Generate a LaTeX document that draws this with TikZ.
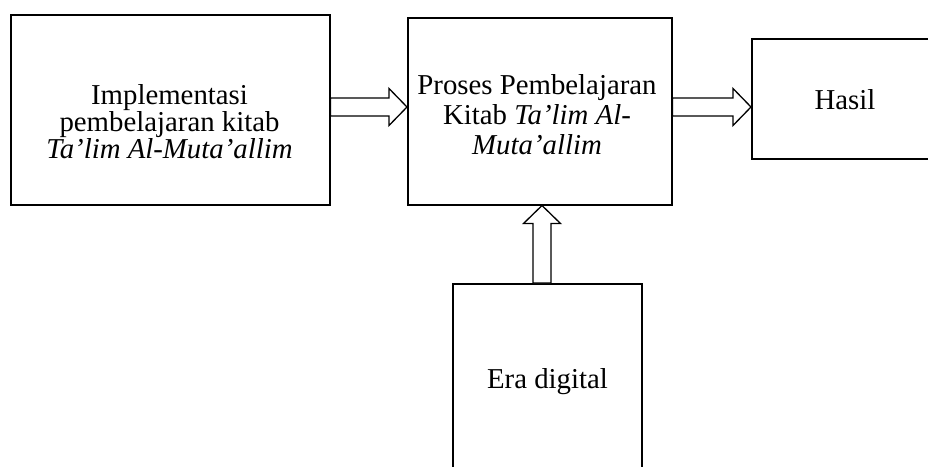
\documentclass[tikz,border=0pt]{standalone}
\usepackage{fontspec}
\setmainfont{Liberation Serif}
\usetikzlibrary{calc}

% hollow block arrow from #1 to #2
\newcommand{\hollowarrow}[2]{%
  \draw[blockarrow] let \p1=(#1), \p2=(#2),
      \n1={veclen(\x2-\x1,\y2-\y1)}, \n2={atan2(\y2-\y1,\x2-\x1)} in
    [shift={(\p1)}, rotate=\n2]
    (0pt,9pt) -- (\n1-18pt,9pt) -- (\n1-18pt,18.5pt) -- (\n1,0pt)
    -- (\n1-18pt,-18.5pt) -- (\n1-18pt,-9pt) -- (0pt,-9pt) -- cycle;}

\begin{document}
\begin{tikzpicture}[
    x=1pt, y=-1pt,
    box/.style={draw, line width=1.5pt, inner sep=0pt},
    box_txt/.style={inner sep=0pt, align=center, font=\fontsize{28.8}{#1}\selectfont},
    box_txt/.default=30,
    blockarrow/.style={draw, line width=1.3pt, fill=white, miter limit=10}
  ]
  \useasboundingbox (0,0) rectangle (928,466);

  % boxes
  \node[box, anchor=north west, minimum width=319, minimum height=190] (impl) at (10,14) {};
  \node[box, anchor=north west, minimum width=264, minimum height=187] (proses) at (407,17) {};
  \node[box, anchor=north west, minimum width=249, minimum height=120] (hasil) at (751,38) {};
  \node[box, anchor=north west, minimum width=189, minimum height=250] (era) at (452,283) {};

  % texts
  \node[box_txt=25] (impl_txt) at (169.5,122) {Implementasi\\pembelajaran kitab\\\textit{Ta’lim Al-Muta’allim}};
  \node[box_txt=30] (proses_txt) at (537,114.5) {Proses Pembelajaran\\Kitab \textit{Ta’lim Al-}\\\textit{Muta’allim}};
  \node[box_txt] (hasil_txt) at (845,99.5) {Hasil};
  \node[box_txt] (era_txt) at (547.5,382) {Era digital};

  % arrows
  \coordinate (axis) at (0,107);
  \coordinate (vaxis) at (542,0);
  \hollowarrow{impl.east |- axis}{proses.west |- axis}
  \hollowarrow{proses.east |- axis}{hasil.west |- axis}
  \hollowarrow{era.north -| vaxis}{proses.south -| vaxis}
\end{tikzpicture}
\end{document}
